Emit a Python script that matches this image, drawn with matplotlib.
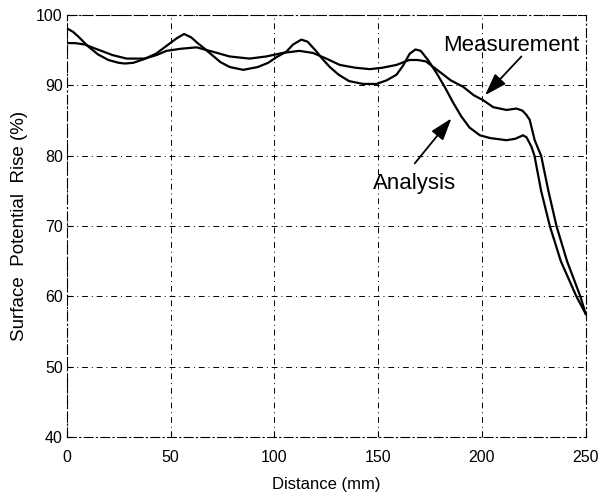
"""
Surface potential rise along distance: analysis vs measurement.
"""
import matplotlib
matplotlib.use("Agg")
import matplotlib.pyplot as plt

# values
analysis_x = [0, 3, 6, 10, 15, 20, 25, 28, 32, 37, 43, 48, 53, 56.5, 60, 63, 66, 70,
              74, 78.5, 85, 92, 97, 101, 105.8, 109, 113, 116, 120.3, 123, 126.7, 131,
              136, 142.7, 149.2, 154, 158.8, 162, 165.2, 168, 170.5, 174, 178, 182,
              186, 190, 194, 199, 204, 211.8, 216, 219.8, 221.5, 223.8, 225.3, 228.5,
              232.7, 238, 245.5, 250]
analysis_y = [98.1, 97.6, 96.8, 95.6, 94.4, 93.6, 93.2, 93.1, 93.2, 93.7, 94.5, 95.6,
              96.7, 97.3, 96.8, 96.0, 95.3, 94.3, 93.3, 92.6, 92.2, 92.6, 93.2, 94.0,
              94.8, 95.8, 96.5, 96.2, 94.8, 93.8, 92.6, 91.5, 90.6, 90.2, 90.2, 90.7,
              91.5, 92.8, 94.5, 95.1, 94.9, 93.6, 91.8, 89.8, 87.6, 85.6, 84.0, 82.9,
              82.5, 82.2, 82.4, 82.9, 82.6, 81.3, 80.0, 75.0, 70.0, 65.0, 60.0, 57.5]

measure_x = [0, 4, 8.7, 13, 17.5, 22, 28.8, 34, 37.6, 43.2, 48, 55, 62.5, 70, 78.5, 88,
             96, 104, 112, 118.6, 125, 131.5, 139, 146, 152, 158.8, 165, 169, 173,
             179.7, 185, 190.9, 196, 200.5, 205.4, 211.8, 216.6, 219.5, 221.4, 223,
             225.4, 228.5, 232, 235.9, 241, 247.4, 250]
measure_y = [96.0, 96.0, 95.8, 95.3, 94.8, 94.3, 93.8, 93.8, 93.8, 94.3, 94.9, 95.2,
             95.4, 94.8, 94.1, 93.8, 94.1, 94.6, 94.9, 94.6, 93.8, 92.9, 92.5, 92.3,
             92.5, 92.9, 93.6, 93.6, 93.4, 91.9, 90.7, 89.8, 88.6, 87.9, 86.9, 86.5,
             86.7, 86.4, 85.8, 85.1, 82.2, 80.0, 75.0, 70.0, 65.0, 60.0, 57.5]

x_ticks = [0, 50, 100, 150, 200, 250]
y_ticks = [40, 50, 60, 70, 80, 90, 100]

plt.rcParams['font.family'] = ['Liberation Sans', 'DejaVu Sans']

fig = plt.figure(figsize=(6.02, 4.99), dpi=100)
ax = fig.add_axes([0.111, 0.124, 0.862, 0.846])

ax.plot(analysis_x, analysis_y, color='black', lw=1.6)
ax.plot(measure_x, measure_y, color='black', lw=1.6)

ax.set_xlim(0, 250)
ax.set_ylim(40, 100)
ax.set_xticks(x_ticks)
ax.set_yticks(y_ticks)
ax.tick_params(direction='in', length=4, labelsize=11.5, width=0.8)
ax.tick_params(axis='x', pad=9)
ax.tick_params(axis='y', pad=3)
ax.grid(True, color='black', linestyle=(0, (6, 4, 1, 4)), lw=0.7)
for s in ax.spines.values():
    s.set_linestyle((0, (8, 3, 1, 3)))
    s.set_linewidth(0.8)

ax.set_xlabel('Distance (mm)', fontsize=12, labelpad=9)
ax.set_ylabel('Surface  Potential  Rise (%)', fontsize=13.5, labelpad=6)

# labels and arrows
arrow_kw = dict(arrowstyle='-|>,head_length=0.9,head_width=0.3', color='black',
                lw=1.3, shrinkA=0, shrinkB=0, mutation_scale=15)
ax.text(214, 95.7, 'Measurement', fontsize=16, ha='center', va='center')
ax.annotate('', xy=(201.5, 88.6), xytext=(219, 94.1), arrowprops=arrow_kw)
ax.text(167.6, 76.1, 'Analysis', fontsize=16, ha='center', va='center')
ax.annotate('', xy=(185.3, 85.3), xytext=(167.6, 78.9), arrowprops=arrow_kw)

fig.savefig('out.png', dpi=100)
